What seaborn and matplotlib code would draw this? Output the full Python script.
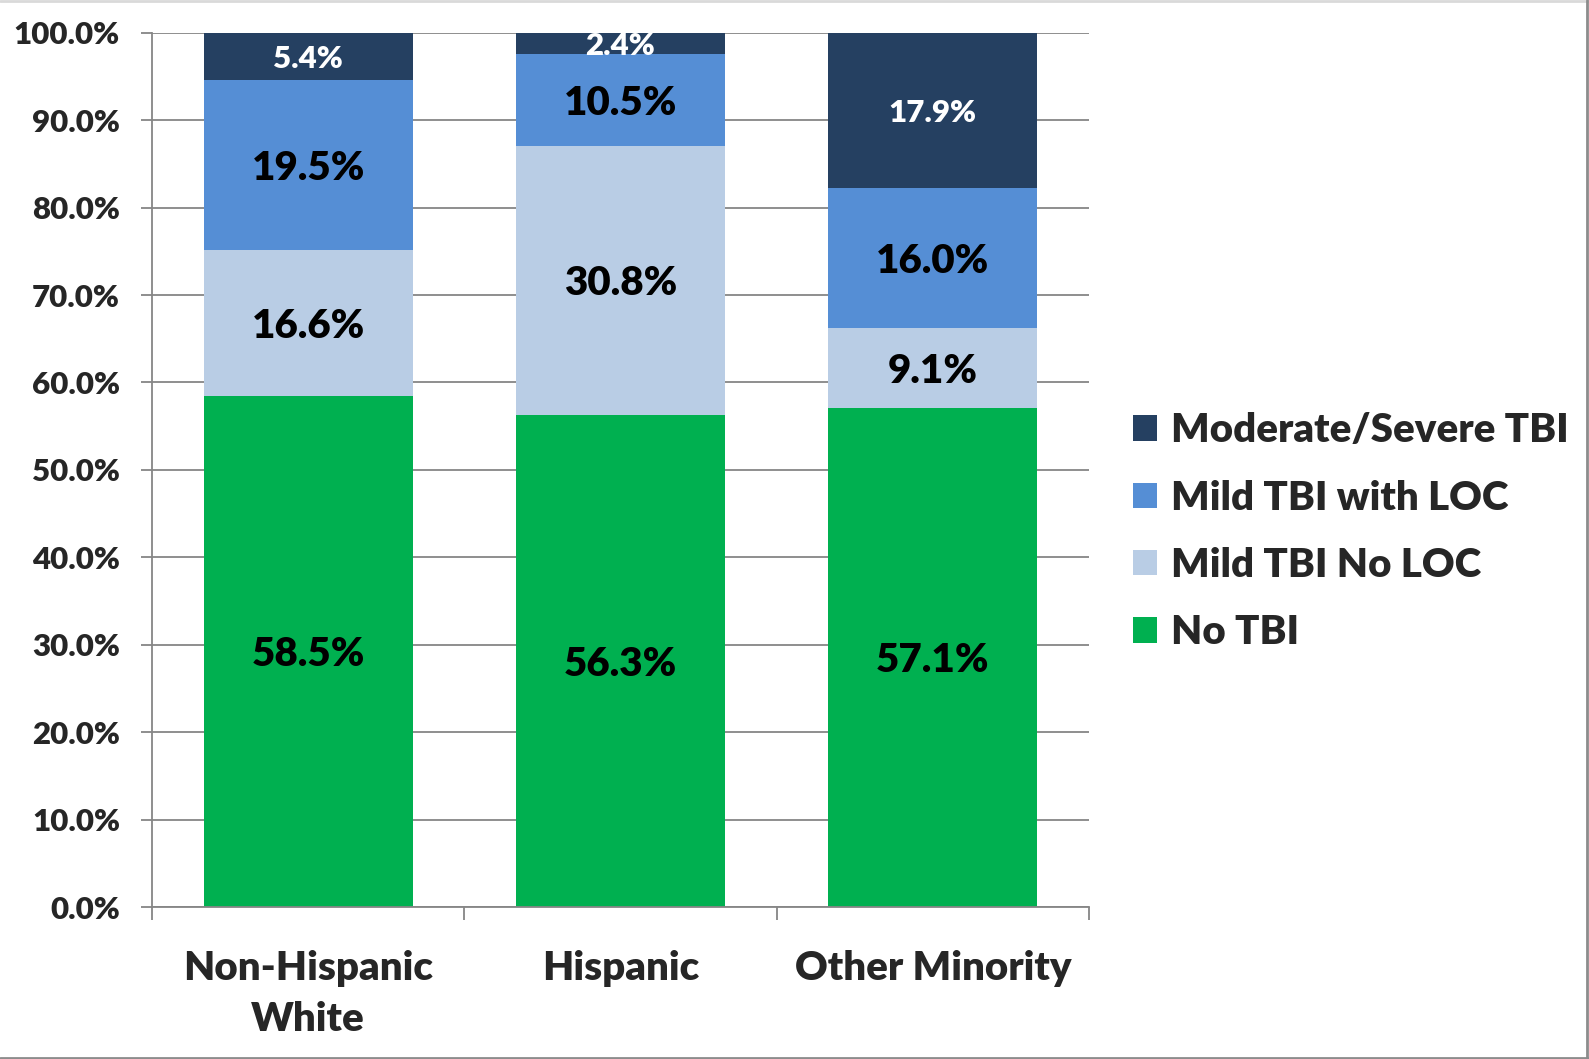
import matplotlib.pyplot as plt
import pandas as pd
import seaborn as sns
from matplotlib.patches import Patch
from matplotlib.lines import Line2D

# Data (percent of each group)
groups = ['Non-Hispanic\nWhite', 'Hispanic', 'Other Minority']
layers = ['No TBI', 'Mild TBI No LOC', 'Mild TBI with LOC', 'Moderate/Severe TBI']
no_tbi = [58.5, 56.3, 57.1]
mild_no_loc = [16.6, 30.8, 9.1]
mild_loc = [19.5, 10.5, 16.0]
mod_severe = [5.4, 2.4, 17.9]
colors = ['#00B050', '#B9CDE5', '#558ED5', '#254061']
y_ticks = [0, 10, 20, 30, 40, 50, 60, 70, 80, 90, 100]

sns.set_theme(style='white')
plt.rcParams['font.family'] = ['Lato', 'DejaVu Sans']
plt.rcParams['font.weight'] = 'heavy'
W = 'heavy'

df = pd.DataFrame({'group': groups, 'No TBI': no_tbi, 'Mild TBI No LOC': mild_no_loc,
                   'Mild TBI with LOC': mild_loc, 'Moderate/Severe TBI': mod_severe})
cum = df[layers].cumsum(axis=1)
cum['group'] = df['group']

grid_col = '#868686'
fig = plt.figure(figsize=(15.89, 10.59), dpi=100)
ax = fig.add_axes([0.0957, 0.1435, 0.5896, 0.8256])
ax.set_axisbelow(True)

# stacked bars: draw cumulative heights, tallest first
for layer, color in reversed(list(zip(layers, colors))):
    sns.barplot(data=cum, x='group', y=layer, color=color, saturation=1,
                width=0.67, linewidth=0, ax=ax)

# segment labels
for i in range(len(groups)):
    bottom = 0
    for layer in layers:
        v = df.loc[i, layer]
        small = layer == 'Moderate/Severe TBI'
        ax.text(i, bottom + v / 2, f'{v:.1f}%', ha='center', va='center_baseline',
                fontsize=22.5 if small else 29, fontweight=W,
                color='white' if small else 'black', zorder=5)
        bottom += v

ax.set_ylim(0, 100)
ax.set_xlim(-0.5, 2.5)
ax.set_yticks(y_ticks)
ax.set_yticklabels([f'{t:.1f}%' for t in y_ticks], fontsize=22.5, fontweight=W)
ax.set_xticks([0, 1, 2])
ax.set_xticklabels(groups, fontsize=29, fontweight=W, linespacing=1.45)
ax.set_xticks([-0.5, 0.5, 1.5, 2.5], minor=True)
ax.set_xlabel('')
ax.set_ylabel('')
ax.yaxis.grid(True, color=grid_col, linewidth=1.3)
ax.tick_params(axis='y', which='major', length=8, width=1.3, color=grid_col, pad=15, left=True)
ax.tick_params(axis='x', which='major', length=0, pad=31)
ax.tick_params(axis='x', which='minor', length=9, width=1.3, color=grid_col, bottom=True)
for s in ['top', 'right']:
    ax.spines[s].set_visible(False)
for s in ['left', 'bottom']:
    ax.spines[s].set_color(grid_col)
    ax.spines[s].set_linewidth(1.3)

handles = [Patch(facecolor=c, edgecolor='none', label=l) for l, c in zip(layers, colors)][::-1]
fig.legend(handles=handles, loc='center left', bbox_to_anchor=(0.713, 0.498),
           frameon=False, prop={'weight': W, 'size': 29},
           handlelength=0.6, handleheight=0.6, handletextpad=0.35,
           labelspacing=0.75, borderpad=0, borderaxespad=0)

# chart border
fig.add_artist(Line2D([0, 1], [0.999, 0.999], color='#d9d9d9', linewidth=2, transform=fig.transFigure))
fig.add_artist(Line2D([0.999, 0.999], [0, 1], color='#8c8c8c', linewidth=2, transform=fig.transFigure))
fig.add_artist(Line2D([0, 1], [0.001, 0.001], color='#8c8c8c', linewidth=2, transform=fig.transFigure))

fig.savefig('out.png', dpi=100)
